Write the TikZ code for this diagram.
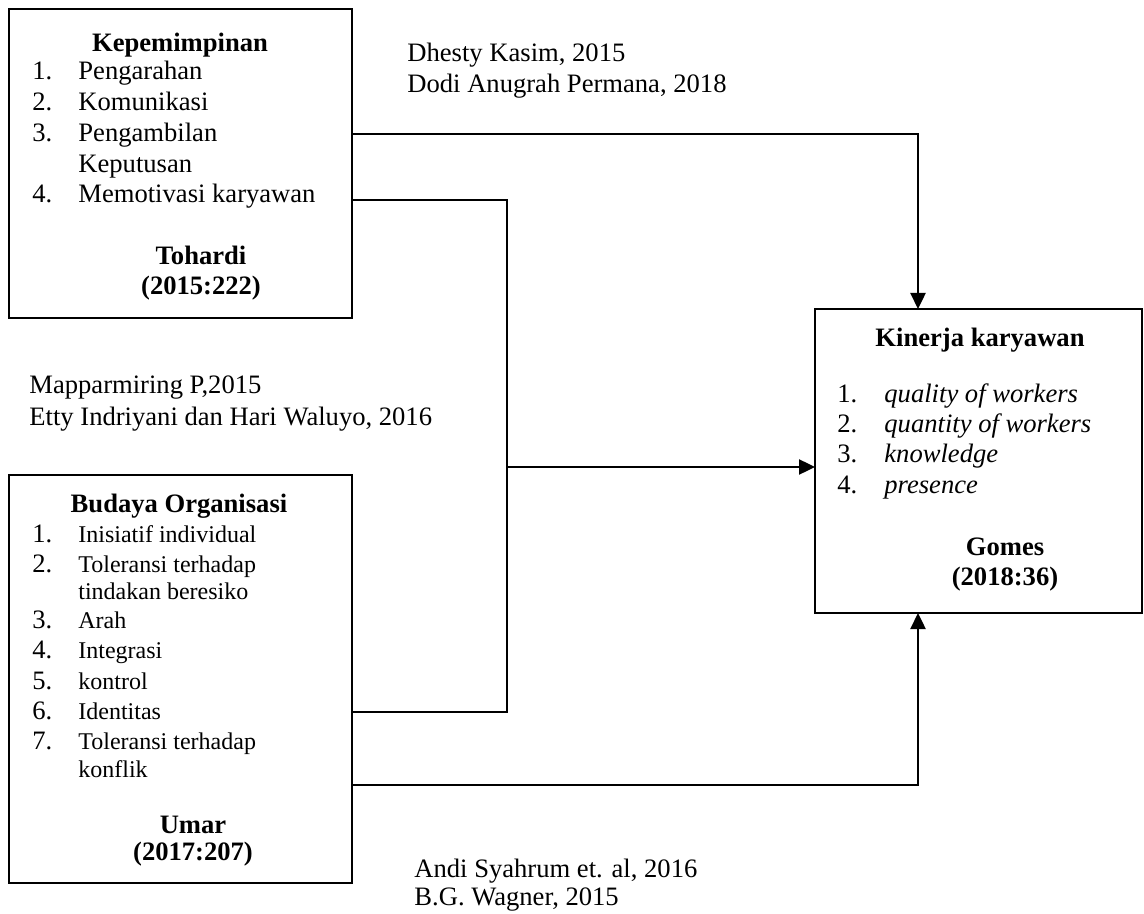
\documentclass[tikz,border=0pt]{standalone}
\usepackage{fontspec}
\setmainfont{Liberation Serif}
\usetikzlibrary{arrows.meta}
\begin{document}
\begin{tikzpicture}[x=0.5pt,y=-0.5pt,
  box/.style={draw,line width=1.1pt,anchor=north west,inner sep=0pt,outer sep=0pt},
  txt/.style={anchor=base west,inner sep=0pt,font=\fontsize{13.3}{16}\selectfont},
  txtc/.style={anchor=base,inner sep=0pt,font=\fontsize{13.3}{16}\selectfont},
  bld/.style={anchor=base,inner sep=0pt,font=\fontsize{13.3}{16}\selectfont\bfseries},
  sml/.style={anchor=base west,inner sep=0pt,font=\fontsize{12}{14}\selectfont},
  itl/.style={anchor=base west,inner sep=0pt,font=\fontsize{13.3}{16}\selectfont\itshape},
  conn/.style={line width=1.2pt},
  arr/.style={conn,-{Triangle[length=8pt,width=7.5pt]}}]
\useasboundingbox (0,0) rectangle (1144,914);

% boxes
\node[box,minimum width=171.5pt,minimum height=154.5pt] (kep) at (9,9) {};
\node[box,minimum width=171.5pt,minimum height=204pt] (bud) at (9,475) {};
\node[box,minimum width=163.5pt,minimum height=152pt] (kin) at (815,309) {};

% helper coordinates
\coordinate (xr) at (918,0);
\coordinate (xm) at (507,0);
\coordinate (y1) at (0,134);
\coordinate (y2) at (0,200);
\coordinate (y3) at (0,712);
\coordinate (ya) at (0,467);
\coordinate (y4) at (0,785);

% connectors
\draw[arr] (kep.east |- y1) -| (kin.north -| xr);
\draw[conn] (kep.east |- y2) -| (xm |- y3) -- (bud.east |- y3);
\draw[arr] (xm |- ya) -- (kin.west |- ya);
\draw[arr] (bud.east |- y4) -| (kin.south -| xr);

% Kepemimpinan box text
\node[bld] (kt) at (180,52) {Kepemimpinan};
\foreach \n/\y in {1/80,2/111,3/142,4/203}
  \node[txt] (kn\n) at (32,\y) {\n.};
\node[txt] (k1) at (78,80) {Pengarahan};
\node[txt] (k2) at (78,111) {Komunikasi};
\node[txt] (k3) at (78,142) {Pengambilan};
\node[txt] (k3b) at (78,173) {Keputusan};
\node[txt] (k4) at (78,203) {Memotivasi karyawan};
\node[bld] (ka) at (201,265) {Tohardi};
\node[bld] (ky) at (201,295) {(2015:222)};

% Budaya box text
\node[bld] (bt) at (179,512) {Budaya Organisasi};
\foreach \n/\y in {1/542,2/572,3/628,4/658,5/689,6/719,7/749}
  \node[txt] (bn\n) at (32,\y) {\n.};
\node[sml] (b1) at (78,542) {Inisiatif individual};
\node[sml] (b2) at (78,572) {Toleransi terhadap};
\node[sml] (b2b) at (78,599) {tindakan beresiko};
\node[sml] (b3) at (78,628) {Arah};
\node[sml] (b4) at (78,658) {Integrasi};
\node[sml] (b5) at (78,689) {kontrol};
\node[sml] (b6) at (78,719) {Identitas};
\node[sml] (b7) at (78,749) {Toleransi terhadap};
\node[sml] (b7b) at (78,777) {konflik};
\node[bld] (ba) at (193,833) {Umar};
\node[bld] (by) at (193,860) {(2017:207)};

% Kinerja box text
\node[bld] (it) at (980,346) {Kinerja karyawan};
\foreach \n/\y in {1/402,2/432,3/462,4/493}
  \node[txt] (in\n) at (837,\y) {\n.};
\node[itl] (i1) at (884,402) {quality of workers};
\node[itl] (i2) at (884,432) {quantity of workers};
\node[itl] (i3) at (884,462) {knowledge};
\node[itl] (i4) at (884,493) {presence};
\node[bld] (ia) at (1005,555) {Gomes};
\node[bld] (iy) at (1005,585) {(2018:36)};

% citations
\node[txt] (c1) at (407,62) {Dhesty Kasim, 2015};
\node[txt] (c2) at (407,93) {Dodi Anugrah Permana, 2018};
\node[txt] (c3) at (29,393) {Mapparmiring P,2015};
\node[txt] (c4) at (29,425) {Etty Indriyani dan Hari Waluyo, 2016};
\node[txt] (c5) at (414,877) {Andi Syahrum et. al, 2016};
\node[txt] (c6) at (414,905) {B.G. Wagner, 2015};
\end{tikzpicture}
\end{document}
